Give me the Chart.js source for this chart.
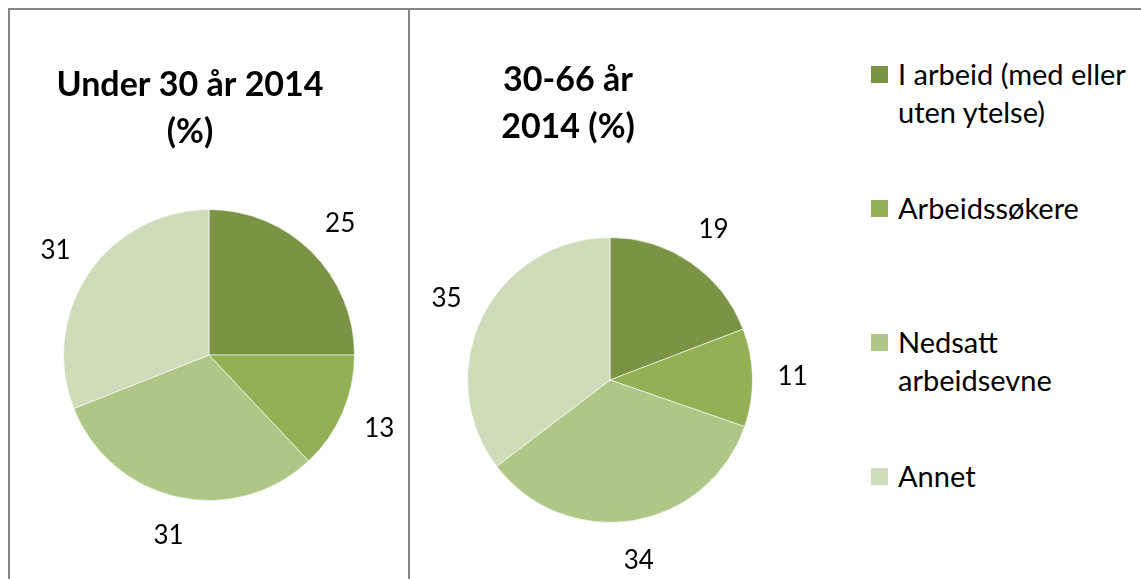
<!DOCTYPE html>
<html>
<head>
<meta charset="utf-8">
<script src="https://cdn.jsdelivr.net/npm/chart.js@4"></script>
<style>
  body { margin: 0; background: #fff; width: 1141px; height: 579px; overflow: hidden; position: relative; font-family: Lato, "Open Sans", sans-serif; }
  .frame { position: absolute; left: 8px; top: 8px; width: 1200px; height: 600px; border-left: 2px solid #878787; border-top: 2px solid #878787; }
  .divider { position: absolute; left: 408px; top: 8px; width: 2px; height: 580px; background: #878787; }
  canvas { position: absolute; }
  #legend { position: absolute; left: 871px; top: 0; }
  .item { position: absolute; left: 0; width: 290px; font-size: 29px; line-height: 38px; color: #000; white-space: normal; }
  .item .box { position: absolute; left: 0; top: 11px; width: 17px; height: 17px; }
  .item .txt { margin-left: 27px; width: 250px; }
</style>
</head>
<body>
<div class="frame"></div>
<div class="divider"></div>
<canvas id="pie1" width="399" height="569" style="left:10px;top:10px"></canvas>
<canvas id="pie2" width="400" height="569" style="left:410px;top:10px"></canvas>
<div id="legend"></div>
<script>
// Kategorier og verdier
const categories = ['I arbeid (med eller uten ytelse)', 'Arbeidssøkere', 'Nedsatt arbeidsevne', 'Annet'];
const under30 = [25, 13, 31, 31];
const age30to66 = [19, 11, 34, 35];
const sliceColors = ['#7A9344', '#93B055', '#AEC787', '#CFDCBA'];
const title1 = ['Under 30 år 2014', '(%)'];
const title2 = ['30-66 år', '2014 (%)'];

// Etiketter utenfor sektorene + tittel
const labelPlugin = {
  id: 'outLabels',
  afterDraw(chart, args, opts) {
    const ctx = chart.ctx;
    const meta = chart.getDatasetMeta(0);
    ctx.save();
    ctx.fillStyle = '#000';
    ctx.textAlign = 'center';
    ctx.textBaseline = 'middle';
    ctx.font = '26px Lato, "Open Sans", sans-serif';
    meta.data.forEach((arc, i) => {
      const mid = (arc.startAngle + arc.endAngle) / 2;
      const r = arc.outerRadius + 40;
      ctx.fillText(String(chart.data.datasets[0].data[i]), arc.x + Math.cos(mid) * r, arc.y + Math.sin(mid) * r);
    });
    ctx.font = 'bold 34px Lato, "Open Sans", sans-serif';
    opts.lines.forEach((line, i) => {
      ctx.fillText(line, opts.x, opts.y + i * 47);
    });
    ctx.restore();
  }
};

function makePie(id, values, title, pad, tx, ty) {
  new Chart(document.getElementById(id), {
    type: 'pie',
    data: {
      labels: categories,
      datasets: [{
        data: values,
        backgroundColor: sliceColors,
        borderColor: 'rgba(255,255,255,0.6)',
        borderWidth: 1
      }]
    },
    options: {
      responsive: false,
      animation: false,
      layout: { padding: pad },
      plugins: {
        legend: { display: false },
        tooltip: { enabled: false },
        outLabels: { lines: title, x: tx, y: ty }
      }
    },
    plugins: [labelPlugin]
  });
}

makePie('pie1', under30, title1, { left: 53, right: 54, top: 199, bottom: 78 }, 180, 75);
makePie('pie2', age30to66, title2, { left: 57, right: 57, top: 227, bottom: 56 }, 158, 70);

// Legende
const legend = document.getElementById('legend');
categories.forEach((c, i) => {
  const el = document.createElement('div');
  el.className = 'item';
  el.style.top = (55 + i * 134) + 'px';
  el.innerHTML = `<div class="box" style="background:${sliceColors[i]}"></div><div class="txt">${c}</div>`;
  legend.appendChild(el);
});
</script>
</body>
</html>
